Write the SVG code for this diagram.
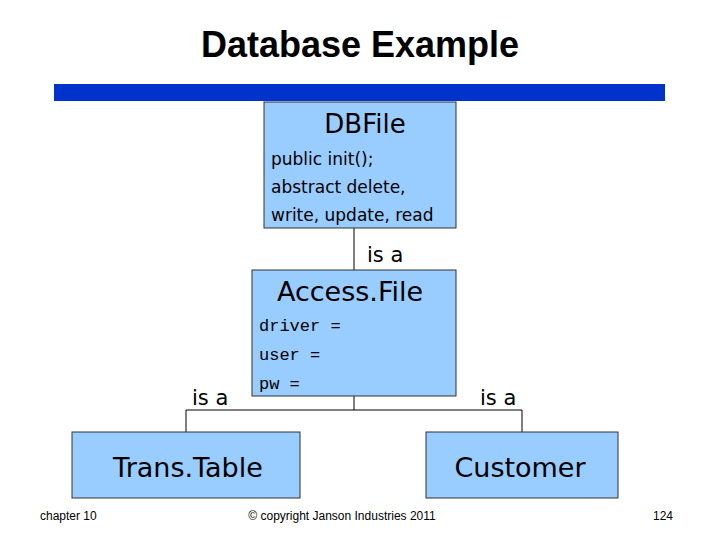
<svg xmlns="http://www.w3.org/2000/svg" width="720" height="540" viewBox="0 0 720 540">
<style>
.box{fill:#99CCFF;stroke:#333;stroke-width:1}
.t{font-family:"DejaVu Sans",sans-serif;fill:#000}
.m{font-family:"Liberation Mono",monospace;fill:#000;font-size:17px}
.f{font-family:"Liberation Sans",Arial,sans-serif;font-size:12px;fill:#000}
</style>
<rect width="720" height="540" fill="#fff"/>
<text x="360" y="57" text-anchor="middle" font-family="Liberation Sans,Arial,sans-serif" font-weight="bold" font-size="36">Database Example</text>
<rect x="54" y="84" width="611" height="17" fill="#0033CC"/>
<g id="connectors" stroke="#000" stroke-width="1" fill="none">
<path d="M354 228V270M354 396V410M186 410H522M186 410V432M522 410V432"/>
</g>
<g id="dbfile">
<rect class="box" x="264" y="102" width="192" height="126"/>
<text class="t" x="365" y="133" text-anchor="middle" font-size="26">DBFile</text>
<text class="t" x="271" y="165" font-size="17">public init();</text>
<text class="t" x="271" y="193" font-size="17">abstract delete,</text>
<text class="t" x="271" y="221" font-size="17">write, update, read</text>
</g>
<text class="t" x="367" y="262" font-size="21">is a</text>
<g id="accessfile">
<rect class="box" x="252" y="270" width="204" height="126"/>
<text class="t" x="350" y="301" text-anchor="middle" font-size="27">Access.File</text>
<text class="m" x="259" y="331">driver =</text>
<text class="m" x="259" y="360">user =</text>
<text class="m" x="259" y="389">pw =</text>
</g>
<text class="t" x="192" y="405" font-size="21">is a</text>
<text class="t" x="480" y="405" font-size="21">is a</text>
<g id="transtable">
<rect class="box" x="72" y="432" width="228" height="66"/>
<text class="t" x="188" y="477" text-anchor="middle" font-size="27">Trans.Table</text>
</g>
<g id="customer">
<rect class="box" x="426" y="432" width="192" height="66"/>
<text class="t" x="520" y="477" text-anchor="middle" font-size="27">Customer</text>
</g>
<text class="f" x="40" y="520">chapter 10</text>
<text class="f" x="342" y="520" text-anchor="middle">© copyright Janson Industries 2011</text>
<text class="f" x="673" y="520" text-anchor="end">124</text>
</svg>
